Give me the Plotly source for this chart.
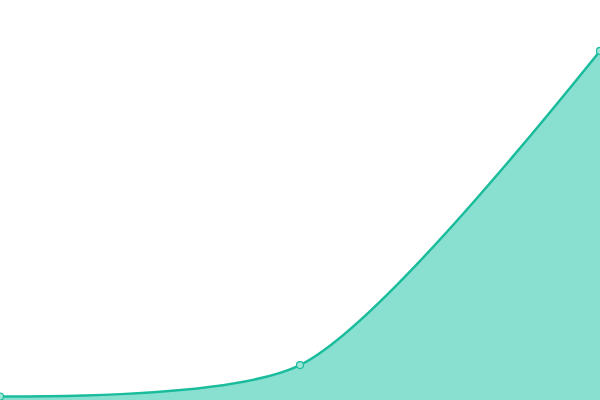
import plotly.graph_objects as go

x_vals = [0, 1, 2]
y_vals = [1, 10, 100]

fig = go.Figure()
fig.add_trace(go.Scatter(
    x=x_vals, y=y_vals,
    mode='lines+markers',
    line=dict(color='#1abc9c', width=2.5, shape='spline', smoothing=0.7),
    fill='tozeroy', fillcolor='#8ae0d0',
    marker=dict(size=7, color='#9ee6d8', line=dict(color='#1abc9c', width=1.2)),
    showlegend=False,
    hoverinfo='skip',
))
fig.update_xaxes(visible=False, range=[0, 2])
fig.update_yaxes(visible=False, range=[0, 114.6])
fig.update_layout(
    width=600, height=400,
    margin=dict(l=0, r=0, t=0, b=0),
    plot_bgcolor='white', paper_bgcolor='white',
)
fig.write_html("out.html", config={'displayModeBar': False},
               post_script="document.body.style.margin='0';document.body.style.overflow='hidden';")
